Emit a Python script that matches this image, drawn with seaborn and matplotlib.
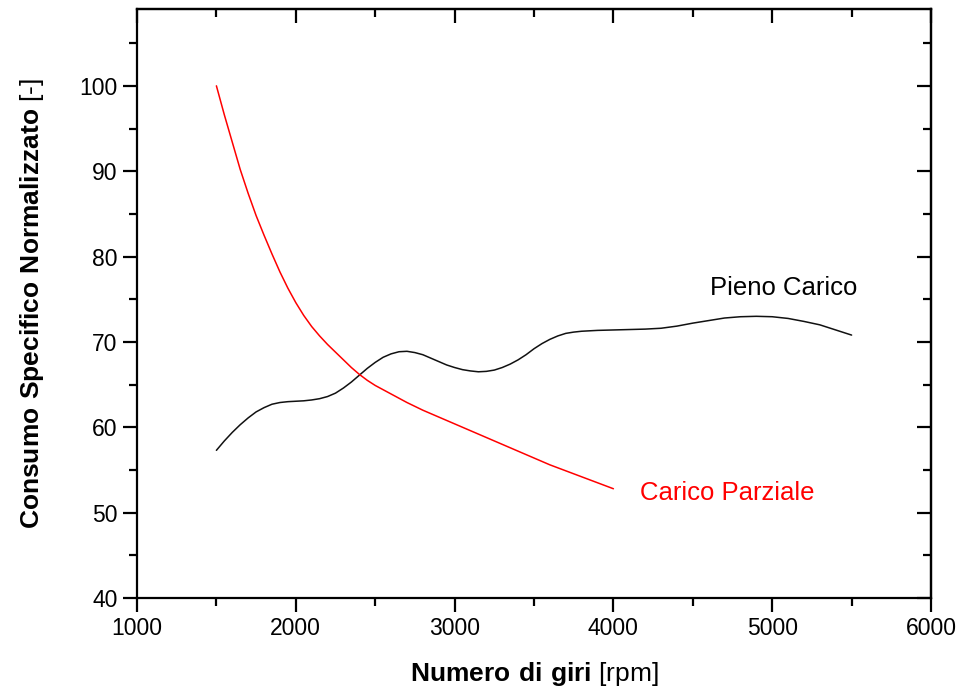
import matplotlib
matplotlib.use("Agg")
import matplotlib.pyplot as plt
from matplotlib.ticker import MultipleLocator
import pandas as pd
import seaborn as sns

# Full load curve (rpm, normalized specific consumption)
rpm_pieno = [1500, 1550, 1600, 1650, 1700, 1750, 1800, 1850, 1900, 1950,
             2000, 2050, 2100, 2150, 2200, 2250, 2300, 2350, 2400, 2450,
             2500, 2550, 2600, 2650, 2700, 2750, 2800, 2850, 2900, 2950,
             3000, 3050, 3100, 3150, 3200, 3250, 3300, 3350, 3400, 3450,
             3500, 3550, 3600, 3650, 3700, 3750, 3800, 3900, 4000, 4100,
             4200, 4300, 4400, 4500, 4600, 4700, 4800, 4900, 5000, 5100,
             5200, 5300, 5400, 5500]
cons_pieno = [57.3, 58.4, 59.4, 60.3, 61.1, 61.8, 62.3, 62.7, 62.9, 63.0,
              63.05, 63.1, 63.2, 63.35, 63.6, 64.0, 64.6, 65.3, 66.1, 66.9,
              67.6, 68.2, 68.6, 68.85, 68.9, 68.75, 68.5, 68.1, 67.7, 67.3,
              67.0, 66.75, 66.6, 66.5, 66.55, 66.7, 67.0, 67.4, 67.9, 68.5,
              69.2, 69.8, 70.3, 70.7, 71.0, 71.15, 71.25, 71.35, 71.4, 71.45,
              71.5, 71.6, 71.85, 72.2, 72.5, 72.8, 72.95, 73.0, 72.95, 72.75,
              72.4, 72.0, 71.4, 70.8]

# Partial load curve
rpm_parziale = [1500, 1550, 1600, 1650, 1700, 1750, 1800, 1850, 1900, 1950,
                2000, 2050, 2100, 2150, 2200, 2250, 2300, 2350, 2400, 2450,
                2500, 2600, 2700, 2800, 2900, 3000, 3100, 3200, 3300, 3400,
                3500, 3600, 3700, 3800, 3900, 4000]
cons_parziale = [100.0, 96.6, 93.4, 90.2, 87.4, 84.8, 82.5, 80.3, 78.2, 76.3,
                 74.6, 73.1, 71.8, 70.7, 69.7, 68.8, 67.9, 67.0, 66.2, 65.5,
                 64.9, 63.9, 62.9, 62.0, 61.2, 60.4, 59.6, 58.8, 58.0, 57.2,
                 56.4, 55.6, 54.9, 54.2, 53.5, 52.8]

x_ticks = [1000, 2000, 3000, 4000, 5000, 6000]
y_ticks = [40, 50, 60, 70, 80, 90, 100]

sns.set_theme(style="ticks")
plt.rcParams["font.family"] = ["Liberation Sans", "DejaVu Sans"]
plt.rcParams["mathtext.fontset"] = "custom"
plt.rcParams["mathtext.rm"] = "Liberation Sans"
plt.rcParams["mathtext.bf"] = "Liberation Sans:bold"
plt.rcParams["text.color"] = "black"
plt.rcParams["axes.labelcolor"] = "black"

df_pieno = pd.DataFrame({"rpm": rpm_pieno, "cons": cons_pieno})
df_parz = pd.DataFrame({"rpm": rpm_parziale, "cons": cons_parziale})

fig = plt.figure(figsize=(9.61, 6.91), dpi=100)
ax = fig.add_axes([137 / 961, 1 - 598 / 691, (931 - 137) / 961, (598 - 9) / 691])

sns.lineplot(data=df_pieno, x="rpm", y="cons", ax=ax, color="#111111",
             linewidth=1.1, sort=False)
sns.lineplot(data=df_parz, x="rpm", y="cons", ax=ax, color="#ff0000",
             linewidth=1.1, sort=False)

ax.set_xlim(1000, 6000)
ax.set_ylim(40, 109)
ax.set_xticks(x_ticks)
ax.set_yticks(y_ticks)
ax.xaxis.set_minor_locator(MultipleLocator(500))
ax.yaxis.set_minor_locator(MultipleLocator(5))

for s in ax.spines.values():
    s.set_linewidth(1.6)
    s.set_color("black")
    s.set_visible(True)

ax.tick_params(axis="both", which="major", direction="out", length=10,
               width=1.6, labelsize=16.5, colors="black", labelcolor="black",
               pad=4)
ax.tick_params(axis="both", which="minor", direction="out", length=6,
               width=1.6, colors="black")

# Inward ticks on the top and right frame
top = ax.secondary_xaxis("top")
top.set_xticks(x_ticks)
top.xaxis.set_minor_locator(MultipleLocator(500))
top.tick_params(which="major", direction="in", length=10, width=1.6,
                labeltop=False, colors="black")
top.tick_params(which="minor", direction="in", length=6, width=1.6,
                colors="black")
top.spines["top"].set_linewidth(1.6)
top.spines["top"].set_color("black")

right = ax.secondary_yaxis("right")
right.set_yticks(y_ticks)
right.yaxis.set_minor_locator(MultipleLocator(5))
right.tick_params(which="major", direction="in", length=10, width=1.6,
                  labelright=False, colors="black")
right.tick_params(which="minor", direction="in", length=6, width=1.6,
                  colors="black")
right.spines["right"].set_linewidth(1.6)
right.spines["right"].set_color("black")

ax.set_xlabel(r"$\bf{Numero\ di\ giri}$ [rpm]", fontsize=19, labelpad=14,
              color="black")
ax.set_ylabel(r"$\bf{Consumo\ Specifico\ Normalizzato}$ [-]", fontsize=19,
              labelpad=24, color="black")

ax.text(5070, 76.3, "Pieno Carico", fontsize=18.5, color="black",
        ha="center", va="center")
ax.text(4715, 52.3, "Carico Parziale", fontsize=18.5, color="#ff0000",
        ha="center", va="center")

fig.savefig("out.png", dpi=100, facecolor="white")
